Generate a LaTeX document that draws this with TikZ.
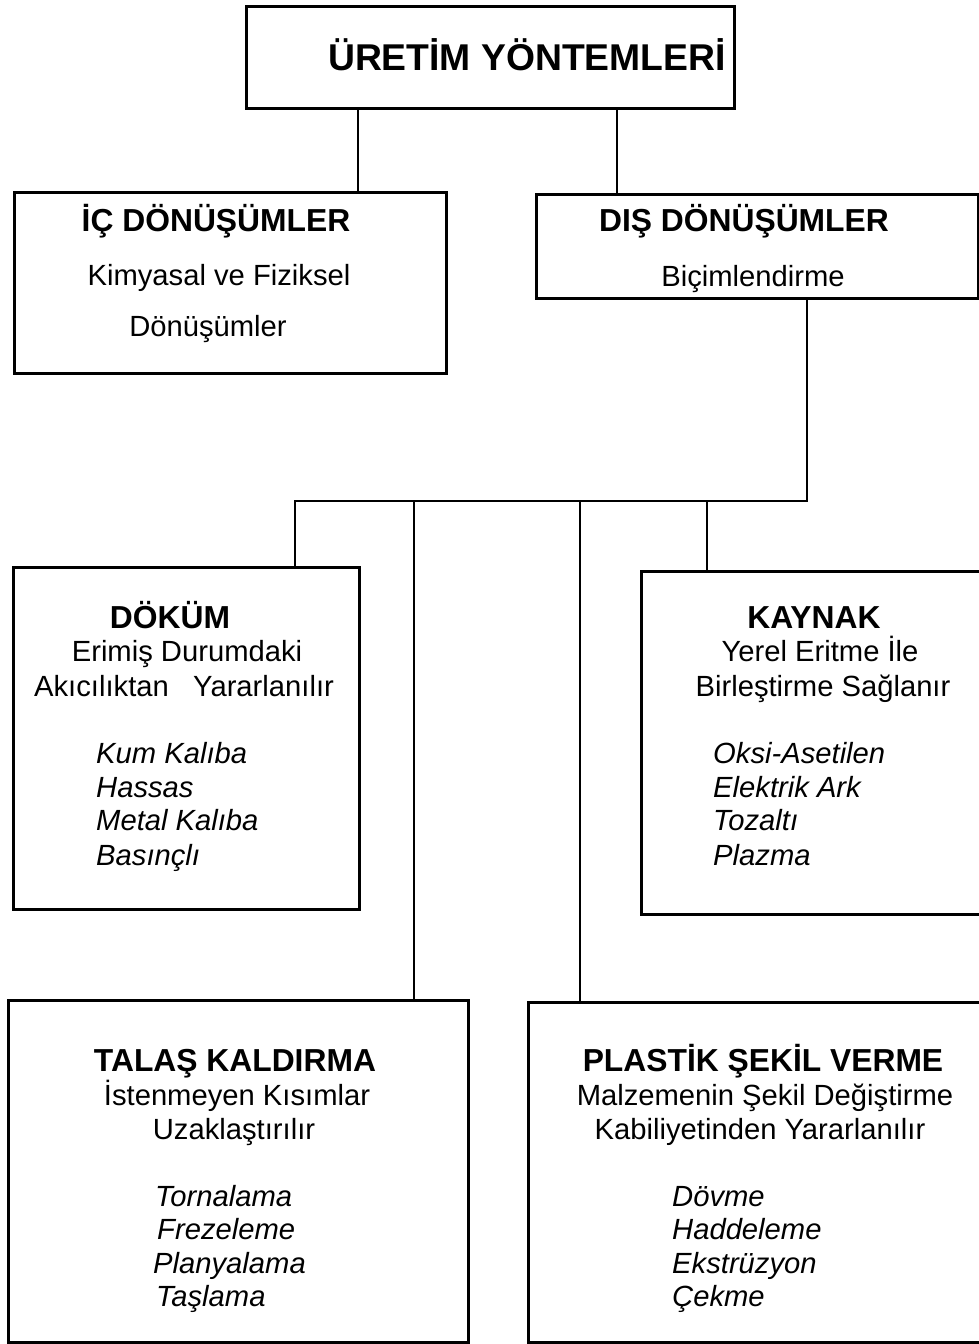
\documentclass[tikz,border=0pt]{standalone}
\usepackage{fontspec}
\setmainfont{Liberation Sans}
\begin{document}
\begin{tikzpicture}[x=1pt,y=-1pt,
  box/.style={draw, line width=2.8pt, rectangle, inner sep=0pt, anchor=north west},
  conn/.style={line width=2.8pt},
  titlefont/.style={font=\fontsize{37.3}{44}\selectfont\bfseries},
  headfont/.style={font=\fontsize{31.8}{38}\selectfont\bfseries},
  bodyfont/.style={font=\fontsize{29.2}{34}\selectfont},
  itfont/.style={font=\fontsize{29.2}{34}\selectfont\itshape},
  ctext/.style={anchor=base, inner sep=0pt},
  ltext/.style={anchor=base west, inner sep=0pt}]
\useasboundingbox (0,0) rectangle (979,1344);

% boxes
\node[box, minimum width=488pt, minimum height=102pt] (top) at (245,5) {};
\node[box, minimum width=432pt, minimum height=181pt] (ic) at (13,191) {};
\node[box, minimum width=442pt, minimum height=104pt] (dis) at (535,193) {};
\node[box, minimum width=346pt, minimum height=342pt] (dokum) at (12,566) {};
\node[box, minimum width=370pt, minimum height=343pt] (kaynak) at (640,570) {};
\node[box, minimum width=460pt, minimum height=342pt] (talas) at (7,999) {};
\node[box, minimum width=480pt, minimum height=340pt] (plastik) at (527,1001) {};

% connector coordinates
\coordinate (xa) at (358,0);
\coordinate (xb) at (617,0);
\coordinate (xc) at (807,0);
\coordinate (bus) at (0,501);
\coordinate (d1) at (295,0);
\coordinate (d2) at (414,0);
\coordinate (d3) at (580,0);
\coordinate (d4) at (707,0);

\draw[conn] (top.south -| xa) -- (ic.north -| xa);
\draw[conn] (top.south -| xb) -- (dis.north -| xb);
\draw[conn] (dis.south -| xc) -- (xc |- bus) -- (d1 |- bus) -- (dokum.north -| d1);
\draw[conn] (d2 |- bus) -- (talas.north -| d2);
\draw[conn] (d3 |- bus) -- (plastik.north -| d3);
\draw[conn] (d4 |- bus) -- (kaynak.north -| d4);

% texts
\node[ctext, titlefont] (t0) at (527,70) {ÜRETİM YÖNTEMLERİ};

\node[ctext, headfont] (t1) at (216,231.5) {İÇ DÖNÜŞÜMLER};
\node[ctext, bodyfont] (t1a) at (219,285) {Kimyasal ve Fiziksel};
\node[ctext, bodyfont] (t1b) at (208,336) {Dönüşümler};

\node[ctext, headfont] (t2) at (744,231.5) {DIŞ DÖNÜŞÜMLER};
\node[ctext, bodyfont] (t2a) at (753,286) {Biçimlendirme};

\node[ctext, headfont] (t3) at (170,628) {DÖKÜM};
\node[ctext, bodyfont] (t3a) at (187,661) {Erimiş Durumdaki};
\node[ctext, bodyfont] (t3b) at (184,696) {Akıcılıktan\ \ \ Yararlanılır};
\node[ltext, itfont] (t3c) at (96,763) {Kum Kalıba};
\node[ltext, itfont] (t3d) at (96,797) {Hassas};
\node[ltext, itfont] (t3e) at (96,830) {Metal Kalıba};
\node[ltext, itfont] (t3f) at (96,865) {Basınçlı};

\node[ctext, headfont] (t4) at (814,628) {KAYNAK};
\node[ctext, bodyfont] (t4a) at (820,661) {Yerel Eritme İle};
\node[ctext, bodyfont] (t4b) at (823,696) {Birleştirme Sağlanır};
\node[ltext, itfont] (t4c) at (713,763) {Oksi-Asetilen};
\node[ltext, itfont] (t4d) at (713,797) {Elektrik Ark};
\node[ltext, itfont] (t4e) at (713,830) {Tozaltı};
\node[ltext, itfont] (t4f) at (713,865) {Plazma};

\node[ctext, headfont] (t5) at (235,1071) {TALAŞ KALDIRMA};
\node[ctext, bodyfont] (t5a) at (237,1105) {İstenmeyen Kısımlar};
\node[ctext, bodyfont] (t5b) at (234,1139) {Uzaklaştırılır};
\node[ltext, itfont] (t5c) at (155,1206) {Tornalama};
\node[ltext, itfont] (t5d) at (157,1239) {Frezeleme};
\node[ltext, itfont] (t5e) at (153,1273) {Planyalama};
\node[ltext, itfont] (t5f) at (156,1306) {Taşlama};

\node[ctext, headfont] (t6) at (763,1071) {PLASTİK ŞEKİL VERME};
\node[ctext, bodyfont] (t6a) at (765,1105) {Malzemenin Şekil Değiştirme};
\node[ctext, bodyfont] (t6b) at (760,1139) {Kabiliyetinden Yararlanılır};
\node[ltext, itfont] (t6c) at (672,1206) {Dövme};
\node[ltext, itfont] (t6d) at (672,1239) {Haddeleme};
\node[ltext, itfont] (t6e) at (672,1273) {Ekstrüzyon};
\node[ltext, itfont] (t6f) at (672,1306) {Çekme};
\end{tikzpicture}
\end{document}
